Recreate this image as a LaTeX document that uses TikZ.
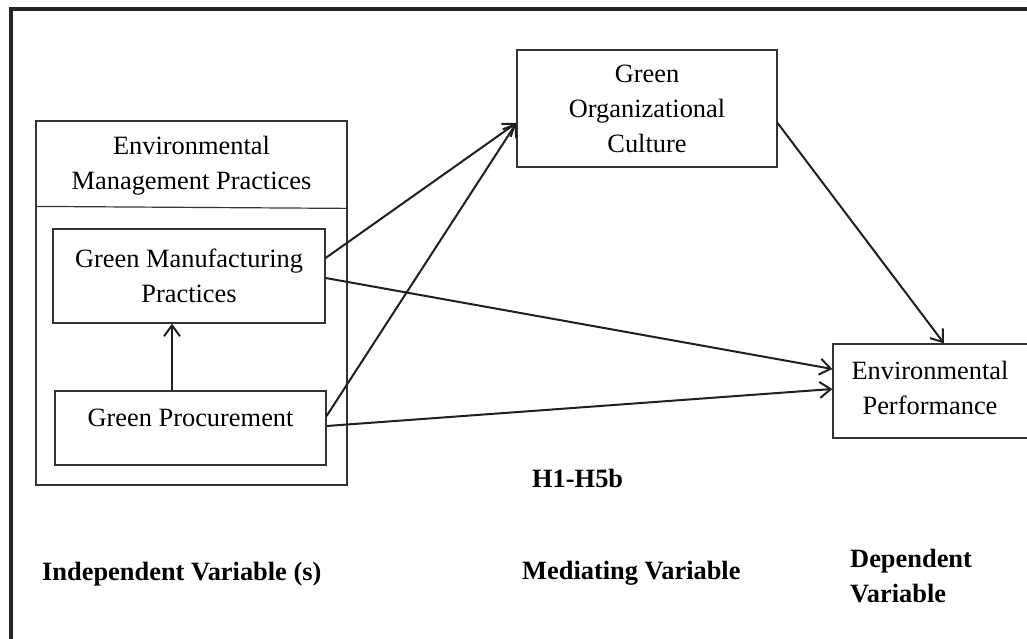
\documentclass[tikz,border=0pt]{standalone}
\usepackage{fontspec}
\setmainfont{Liberation Serif}
\usetikzlibrary{arrows.meta}
\begin{document}
\begin{tikzpicture}[x=1pt,y=-1pt,
  boxline/.style={draw=black!80, line width=1.2pt},
  varbox/.style={boxline, rectangle, inner sep=0pt, align=center,
    font=\fontsize{26.4pt}{35pt}\selectfont},
  txt/.style={inner sep=0pt, align=center, font=\fontsize{26.4pt}{35pt}\selectfont},
  boldtxt/.style={inner sep=0pt, align=left, font=\fontsize{26.4pt}{35pt}\selectfont\bfseries},
  link/.style={draw=black!88, line width=2pt, -{Straight Barb[length=11pt,width=16pt,line width=2pt]}},
  frame/.style={draw=black!85, line width=3.2pt}
]
\useasboundingbox (0,0) rectangle (1027,639);
% outer frame (clipped at the right and bottom)
\draw[frame] (11,645) -- (11,9) -- (1035,9);

% group box: Environmental Management Practices
\node[boxline, rectangle, inner sep=0pt, minimum width=311pt, minimum height=364pt] (emp) at (191.5,303) {};
\node[txt] (empt) at (191.5,165.5) {Environmental\\Management Practices};
\draw[boxline] ([yshift=-86pt]emp.north west) -- ([yshift=-88pt]emp.north east);

% boxes
\node[varbox, minimum width=272pt, minimum height=94pt] (gmp) at (189,276) {Green Manufacturing\\Practices};
\node[boxline, rectangle, inner sep=0pt, minimum width=271pt, minimum height=74pt] (gp) at (190.5,428) {};
\node[txt] (gpt) at (190.5,418) {Green Procurement};
\node[varbox, minimum width=260pt, minimum height=117pt] (goc) at (647,108.5) {Green\\Organizational\\Culture};
\node[varbox, minimum width=198pt, minimum height=94pt] (ep) at (932,391) {};
\node[txt] (ept) at (930,388) {Environmental\\Performance};

% connectors
\draw[link] ([xshift=-18.5pt]gp.north) -- ([xshift=-17pt]gmp.south);
\draw[link] ([yshift=18pt]gmp.east) -- ([yshift=-14.5pt]goc.west);
\draw[link] ([yshift=12pt]gp.east) -- ([yshift=-14.5pt]goc.west);
\draw[link] ([yshift=-2pt]gmp.east) -- ([yshift=22pt]ep.west);
\draw[link] ([yshift=2pt]gp.east) -- ([yshift=2pt]ep.west);
\draw[link] ([yshift=-14.5pt]goc.east) -- ([xshift=12pt]ep.north);

% labels
\node[boldtxt, anchor=base west] (hyp) at (532,487) {H1-H5b};
\node[boldtxt, anchor=base west] (iv) at (42,580) {Independent Variable (s)};
\node[boldtxt, anchor=base west] (mv) at (522,579) {Mediating Variable};
\node[boldtxt, anchor=west] (dv) at (850,576.5) {Dependent\\Variable};
\end{tikzpicture}
\end{document}
